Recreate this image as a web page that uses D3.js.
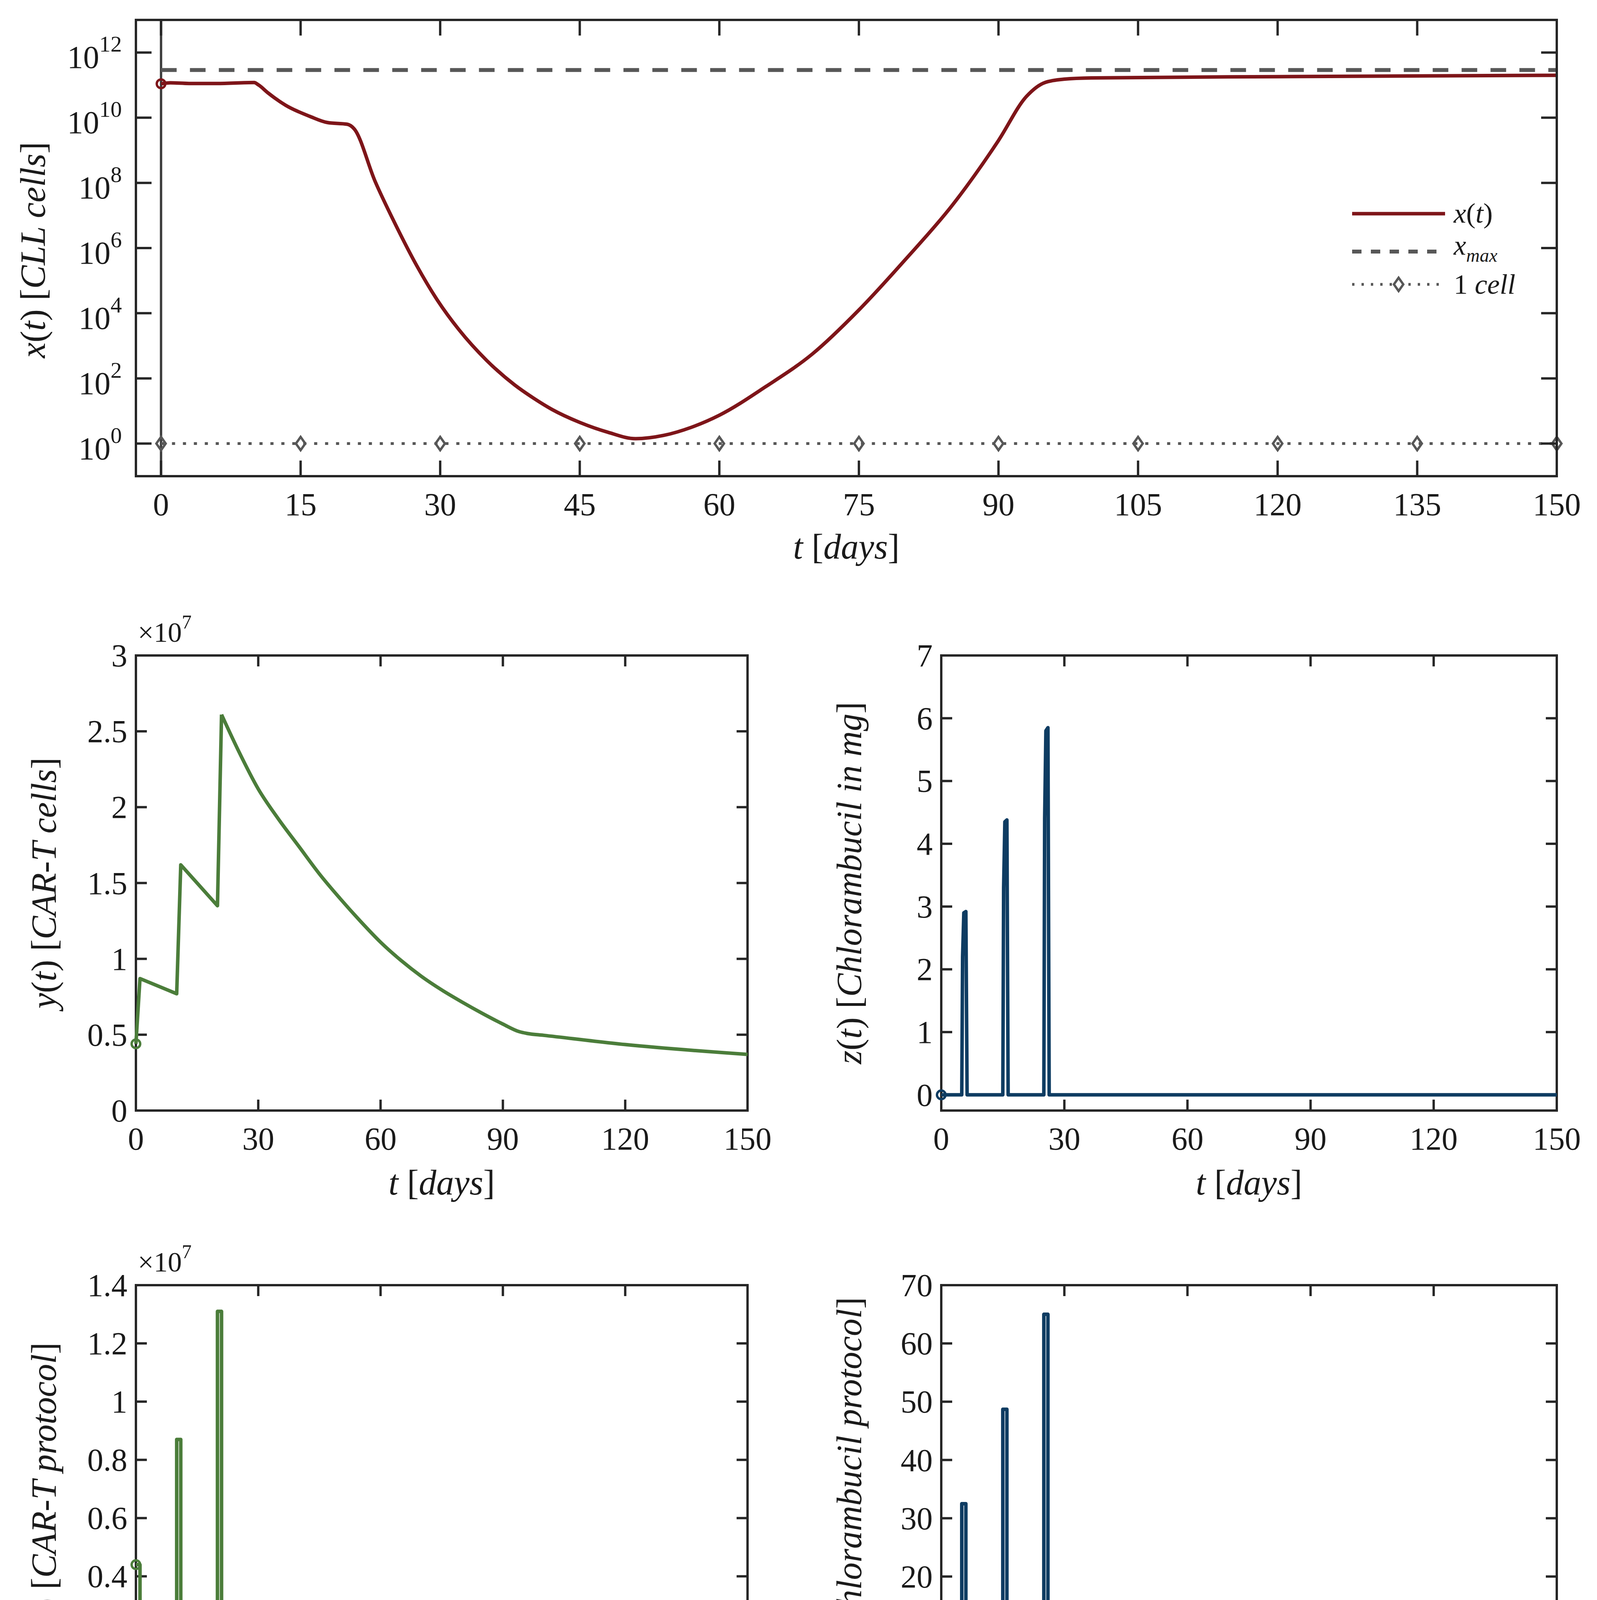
<!DOCTYPE html>
<html><head><meta charset="utf-8">
<script src="https://cdn.jsdelivr.net/npm/d3@7"></script>
<style>html,body{margin:0;padding:0;background:#fff;overflow:hidden}svg{display:block}</style></head>
<body><svg id="c" width="4089" height="4765"></svg>
<script>
// ---- data ----
const xT   = [0,1,3,6,10,10.5,11.5,13.4,16,17.9,20,20.75,23,25.2,27.5,29.7,32,35,38,40,42,45,48,51,54,57,60,65,70,75,80,85,90,93,95,97,100,120,150];
const xLog = [11.04,11.07,11.05,11.05,11.08,11.0,10.76,10.38,10.04,9.85,9.8,9.66,8.05,6.72,5.45,4.4,3.5,2.55,1.8,1.4,1.05,0.65,0.35,0.15,0.25,0.5,0.87,1.75,2.75,4.1,5.65,7.3,9.3,10.65,11.08,11.18,11.22,11.26,11.3];
const xMaxVal = 2.9e11;
const cellT = [0,15,30,45,60,75,90,105,120,135,150];
// CAR-T: dosing phase (straight segments) and decay phase (smooth)
const yT1 = [0,1,10,11,20,21];
const yV1 = [0.44,0.87,0.77,1.62,1.35,2.61];
const yT2 = [21,25,30,35,40,45,50,55,60,65,70,75,80,85,90,94,96,100,120,150];
const yV2 = [2.61,2.38,2.12,1.92,1.74,1.56,1.40,1.25,1.11,0.99,0.885,0.795,0.715,0.64,0.57,0.52,0.508,0.496,0.435,0.37];
const zT = [0,5,5.2,5.5,6,6.3,15,15.2,15.5,16,16.3,25,25.2,25.5,26,26.3,150];
const zV = [0,0,2.2,2.9,2.92,0,0,3.3,4.35,4.38,0,0,4.4,5.8,5.85,0,0];
const psiT = [0,1,1,10,10,11,11,20,20,21,21,150];
const psiV = [0.44,0.44,0,0,0.87,0.87,0,0,1.31,1.31,0,0];
const epsT = [0,5,5,6,6,15,15,16,16,25,25,26,26,150];
const epsV = [0,0,32.5,32.5,0,0,48.7,48.7,0,0,65,65,0,0];
const xTicksTop = [0,15,30,45,60,75,90,105,120,135,150];
const yTicksTop = [0,2,4,6,8,10,12];
const xTicksSmall = [0,30,60,90,120,150];

const RED="#7e1519", GRN="#4b7d3a", BLU="#0e3c62", GRY="#575757", AX="#262626";
const FONT="'Liberation Serif','DejaVu Serif',serif";
const TS=82, LS=90;
const svg=d3.select("#c");

function label(g, parts, x, y, size, rot){
  const t=g.append("text").attr("font-family",FONT).attr("font-size",size).attr("fill","#1a1a1a")
    .attr("text-anchor","middle").attr("transform",`translate(${x},${y})`+(rot?` rotate(${rot})`:""));
  parts.forEach(p=>{t.append("tspan").text(p[0]).attr("font-style",p[1]?"italic":"normal");});
  return t;
}
function box(g,x,y,tx,ty,fmtX,fmtY,tl){
  const [x0,x1]=x.range(),[y1,y0]=y.range();
  const ga=g.append("g").attr("stroke",AX).attr("stroke-width",6).attr("fill","none");
  ga.append("rect").attr("x",x0).attr("y",y0).attr("width",x1-x0).attr("height",y1-y0);
  tx.forEach(v=>{ga.append("line").attr("x1",x(v)).attr("x2",x(v)).attr("y1",y1).attr("y2",y1-tl);
    ga.append("line").attr("x1",x(v)).attr("x2",x(v)).attr("y1",y0).attr("y2",y0+tl);
    g.append("text").attr("x",x(v)).attr("y",y1+100).attr("text-anchor","middle").attr("font-family",FONT).attr("font-size",TS).attr("fill","#1a1a1a").text(fmtX(v));});
  ty.forEach(v=>{ga.append("line").attr("y1",y(v)).attr("y2",y(v)).attr("x1",x0).attr("x2",x0+tl);
    ga.append("line").attr("y1",y(v)).attr("y2",y(v)).attr("x1",x1).attr("x2",x1-tl);
    if(fmtY) g.append("text").attr("x",x0-22).attr("y",y(v)+28).attr("text-anchor","end").attr("font-family",FONT).attr("font-size",TS).attr("fill","#1a1a1a").text(fmtY(v));});
}
function path(g,xs,ys,x,y,col,curve,dash,w){
  return g.append("path").datum(xs.map((t,i)=>[t,ys[i]])).attr("fill","none").attr("stroke",col)
   .attr("stroke-width",w||9).attr("stroke-linejoin","round").attr("stroke-dasharray",dash||null)
   .attr("d",d3.line().x(d=>x(d[0])).y(d=>y(d[1])).curve(curve||d3.curveLinear));
}

// ---- top panel ----
{
 const g=svg.append("g");
 const x=d3.scaleLinear().domain([-2.7,150]).range([348,3986]);
 const y=d3.scaleLog().domain([1e-1,1e13]).range([1219,51]);
 g.append("line").attr("x1",x(0)).attr("x2",x(0)).attr("y1",y.range()[0]).attr("y2",y.range()[1]).attr("stroke","#3c3c3c").attr("stroke-width",6);
 path(g,[0,150],[xMaxVal,xMaxVal],x,y,GRY,null,"40 34",10);
 path(g,[0,150],[1,1],x,y,GRY,null,"8 20",7);
 cellT.forEach(t=>g.append("path").attr("d",`M${x(t)},${y(1)-17}l12,17l-12,17l-12,-17z`).attr("fill","none").attr("stroke",GRY).attr("stroke-width",6));
 path(g,xT,xLog.map(v=>Math.pow(10,v)),x,y,RED,d3.curveMonotoneX,null,9);
 g.append("circle").attr("cx",x(0)).attr("cy",y(Math.pow(10,xLog[0]))).attr("r",11).attr("fill","none").attr("stroke",RED).attr("stroke-width",6);
 box(g,x,y,xTicksTop,yTicksTop.map(e=>Math.pow(10,e)),v=>v,null,40);
 yTicksTop.forEach(e=>{const t=g.append("text").attr("x",312).attr("y",y(Math.pow(10,e))+40).attr("text-anchor","end").attr("font-family",FONT).attr("font-size",TS).attr("fill","#1a1a1a");
   t.append("tspan").text("10"); t.append("tspan").text(e).attr("font-size",58).attr("dy",-42);});
 label(g,[["x",1],["(",0],["t",1],[") [",0],["CLL cells",1],["]",0]],115,640,LS,-90);
 label(g,[["t",1],[" [",0],["days",1],["]",0]],2167,1430,LS);
 // legend
 const lx0=3462,lx1=3700;
 g.append("line").attr("x1",lx0).attr("x2",lx1).attr("y1",547).attr("y2",547).attr("stroke",RED).attr("stroke-width",9);
 g.append("line").attr("x1",lx0).attr("x2",lx1).attr("y1",644).attr("y2",644).attr("stroke",GRY).attr("stroke-width",10).attr("stroke-dasharray","24 24");
 g.append("line").attr("x1",lx0).attr("x2",lx1).attr("y1",728).attr("y2",728).attr("stroke",GRY).attr("stroke-width",7).attr("stroke-dasharray","6 18");
 g.append("path").attr("d",`M${(lx0+lx1)/2},${711}l12,17l-12,17l-12,-17z`).attr("fill","#fff").attr("stroke",GRY).attr("stroke-width",6);
 const L=(parts,yy)=>{const t=g.append("text").attr("x",3722).attr("y",yy).attr("font-family",FONT).attr("font-size",72).attr("fill","#1a1a1a");parts.forEach(p=>{const s=t.append("tspan").text(p[0]).attr("font-style",p[1]?"italic":"normal");if(p[2])s.attr("font-size",48).attr("dy",p[2]);});};
 L([["x",1],["(",0],["t",1],[")",0]],570);
 L([["x",1],["max",1,18]],652);
 L([["1 ",0],["cell",1]],752);
}

function small(left,top,w,h,xd,yd,yt,fmtY,series,col,ylab,exp){
 const g=svg.append("g");
 const x=d3.scaleLinear().domain(xd).range([left,left+w]);
 const y=d3.scaleLinear().domain(yd).range([top+h,top]);
 box(g,x,y,xTicksSmall,yt,v=>v,fmtY,28);
 series.forEach(s=>path(g,s[0],s[1],x,y,col,s[2],null,9));
 g.append("circle").attr("cx",x(series[0][0][0])).attr("cy",y(series[0][1][0])).attr("r",11).attr("fill","none").attr("stroke",col).attr("stroke-width",6);
 label(g,ylab,left-205,top+h/2,LS,-90);
 label(g,[["t",1],[" [",0],["days",1],["]",0]],left+w/2,top+h+215,LS);
 if(exp){const t=g.append("text").attr("x",left+5).attr("y",top-35).attr("font-family",FONT).attr("font-size",72).attr("fill","#1a1a1a");
   t.append("tspan").text("×10"); t.append("tspan").text("7").attr("font-size",50).attr("dy",-34);}
}
const f1=v=>d3.format("~g")(v);
small(348,1678,1566,1165,[0,150],[0,3],[0,0.5,1,1.5,2,2.5,3],f1,[[yT1,yV1],[yT2,yV2,d3.curveMonotoneX]],GRN,
  [["y",1],["(",0],["t",1],[") [",0],["CAR-T cells",1],["]",0]],true);
small(2410,1678,1576,1165,[0,150],[-0.25,7],[0,1,2,3,4,5,6,7],f1,[[zT,zV]],BLU,
  [["z",1],["(",0],["t",1],[") [",0],["Chlorambucil in mg",1],["]",0]],false);
small(348,3290,1566,1089,[0,150],[-0.061,1.4],[0,0.2,0.4,0.6,0.8,1,1.2,1.4],f1,[[psiT,psiV]],GRN,
  [["ψ",1],["(",0],["t",1],[") [",0],["CAR-T protocol",1],["]",0]],true);
small(2410,3290,1576,1089,[0,150],[-3,70],[0,10,20,30,40,50,60,70],f1,[[epsT,epsV]],BLU,
  [["ϵ",1],["(",0],["t",1],[") [",0],["Chlorambucil protocol",1],["]",0]],false);
</script></body></html>
